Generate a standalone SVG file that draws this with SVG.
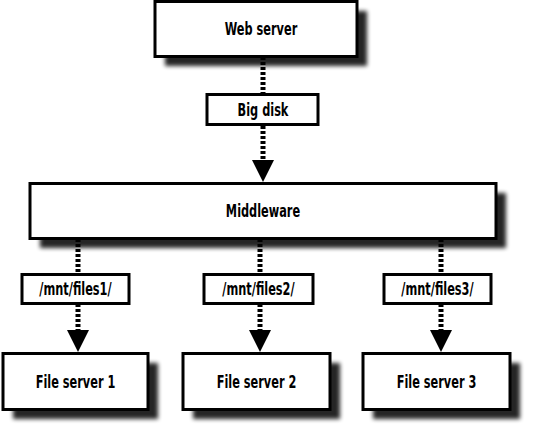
<svg xmlns="http://www.w3.org/2000/svg" width="540" height="424" viewBox="0 0 540 424">
<style>
.box{fill:#fff;stroke:#000;stroke-width:3}
.sh{fill:#000;opacity:0.85;filter:url(#blur)}
.t{font-family:"DejaVu Sans Condensed","DejaVu Sans",sans-serif;font-size:18px;font-weight:bold;text-anchor:middle;fill:#000}
.d{stroke:#000;stroke-width:5;stroke-dasharray:3 2;fill:none}
</style>
<defs>
<filter id="blur" x="-10%" y="-30%" width="120%" height="160%"><feGaussianBlur stdDeviation="2"/></filter>
</defs>
<g id="connectors">
<line class="d" x1="263" y1="57" x2="263" y2="94"/>
<line class="d" x1="263" y1="126" x2="263" y2="160"/>
<path d="M252,160 L274,160 L263,182 Z"/>
<line class="d" x1="78" y1="239" x2="78" y2="274"/>
<line class="d" x1="78" y1="304" x2="78" y2="330"/>
<path d="M67,330 L89,330 L78,352 Z"/>
<line class="d" x1="260" y1="239" x2="260" y2="274"/>
<line class="d" x1="260" y1="304" x2="260" y2="330"/>
<path d="M249,330 L271,330 L260,352 Z"/>
<line class="d" x1="441" y1="239" x2="441" y2="274"/>
<line class="d" x1="441" y1="304" x2="441" y2="330"/>
<path d="M430,330 L452,330 L441,352 Z"/>
</g>
<g id="web-server">
<rect class="sh" x="165" y="11" width="202" height="55"/>
<rect class="box" x="155" y="1.5" width="202" height="55"/>
<text class="t" transform="translate(261,35) scale(0.7,1)">Web server</text>
</g>
<g id="big-disk">
<rect class="box" x="207" y="94.5" width="111" height="30"/>
<text class="t" transform="translate(263,116) scale(0.7,1)">Big disk</text>
</g>
<g id="middleware">
<rect class="sh" x="40" y="193" width="466" height="55"/>
<rect class="box" x="30" y="183.5" width="466" height="55"/>
<text class="t" transform="translate(263,217) scale(0.7,1)">Middleware</text>
</g>
<g id="mnt1">
<rect class="box" x="22" y="274.5" width="107" height="29"/>
<text class="t" transform="translate(75.5,295) scale(0.7,1)">/mnt/files1/</text>
</g>
<g id="mnt2">
<rect class="box" x="204" y="274.5" width="109" height="29"/>
<text class="t" transform="translate(258.5,295) scale(0.7,1)">/mnt/files2/</text>
</g>
<g id="mnt3">
<rect class="box" x="384" y="274.5" width="107" height="29"/>
<text class="t" transform="translate(437.5,295) scale(0.7,1)">/mnt/files3/</text>
</g>
<g id="fs1">
<rect class="sh" x="13" y="363" width="145" height="56"/>
<rect class="box" x="3" y="353.5" width="145" height="56"/>
<text class="t" transform="translate(75.5,388) scale(0.7,1)">File server 1</text>
</g>
<g id="fs2">
<rect class="sh" x="193" y="363" width="147" height="56"/>
<rect class="box" x="183" y="353.5" width="147" height="56"/>
<text class="t" transform="translate(256.5,388) scale(0.7,1)">File server 2</text>
</g>
<g id="fs3">
<rect class="sh" x="373" y="363" width="147" height="56"/>
<rect class="box" x="363" y="353.5" width="147" height="56"/>
<text class="t" transform="translate(436.5,388) scale(0.7,1)">File server 3</text>
</g>
</svg>
